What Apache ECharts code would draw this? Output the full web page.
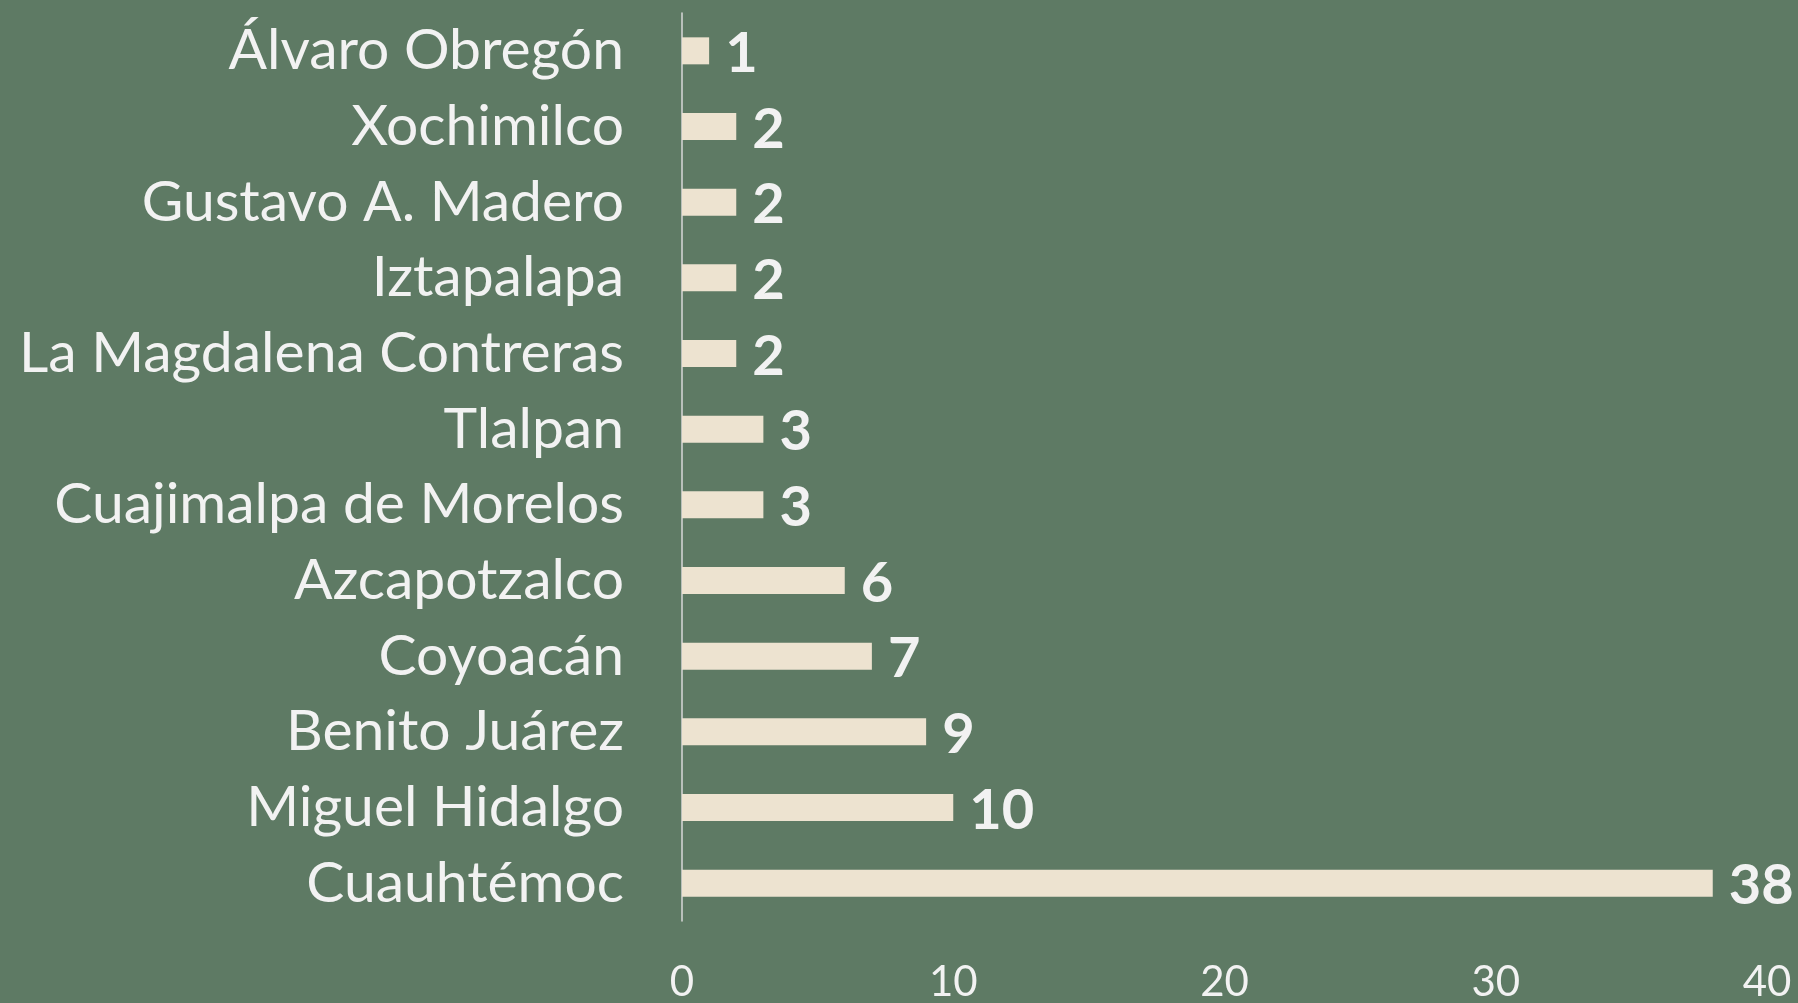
<!DOCTYPE html>
<html>
<head>
<meta charset="utf-8">
<script src="https://cdn.jsdelivr.net/npm/echarts@6/dist/echarts.min.js"></script>
<style>
  html, body { margin: 0; padding: 0; background: #5E7A64; }
  #chart { width: 1798px; height: 1003px; }
</style>
</head>
<body>
<div id="chart"></div>
<script>
// alcaldías, de arriba hacia abajo
const alcaldias = [
  'Álvaro Obregón',
  'Xochimilco',
  'Gustavo A. Madero',
  'Iztapalapa',
  'La Magdalena Contreras',
  'Tlalpan',
  'Cuajimalpa de Morelos',
  'Azcapotzalco',
  'Coyoacán',
  'Benito Juárez',
  'Miguel Hidalgo',
  'Cuauhtémoc'
];
const valores = [1, 2, 2, 2, 2, 3, 3, 6, 7, 9, 10, 38];
const ejeMin = 0;
const ejeMax = 40;
const ejeIntervalo = 10;

const chart = echarts.init(document.getElementById('chart'));

const option = {
  backgroundColor: '#5E7A64',
  animation: false,
  grid: {
    left: 682,
    right: 31,
    top: 13,
    bottom: 82,
    containLabel: false
  },
  xAxis: {
    type: 'value',
    min: ejeMin,
    max: ejeMax,
    interval: ejeIntervalo,
    axisLine: { show: false },
    axisTick: { show: false },
    splitLine: { show: false },
    axisLabel: {
      color: '#F2F2F2',
      fontFamily: 'Lato',
      fontSize: 42,
      margin: 40
    }
  },
  yAxis: {
    type: 'category',
    data: alcaldias,
    inverse: true,
    axisLine: { show: true, lineStyle: { color: '#D9D9D9', width: 1.5 } },
    axisTick: { show: false },
    axisLabel: {
      color: '#F2F2F2',
      fontFamily: 'Lato',
      fontSize: 57,
      margin: 58
    }
  },
  series: [{
    type: 'bar',
    data: valores,
    barWidth: 27,
    itemStyle: { color: '#EDE3D0' },
    label: {
      show: true,
      position: 'right',
      distance: 16,
      offset: [0, 3],
      color: '#F2F2F2',
      fontFamily: 'Lato',
      fontWeight: 'bold',
      fontSize: 56
    }
  }]
};

chart.setOption(option);
</script>
</body>
</html>
